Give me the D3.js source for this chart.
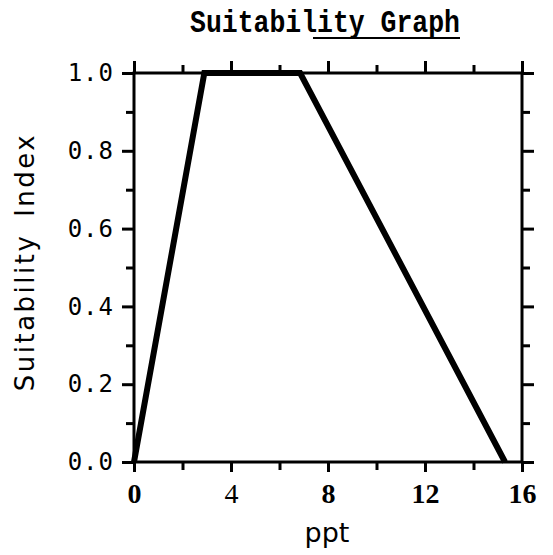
<!DOCTYPE html>
<html>
<head>
<meta charset="utf-8">
<script src="https://cdn.jsdelivr.net/npm/d3@7"></script>
<style>
  body { margin: 0; background: #fff; }
</style>
</head>
<body>
<svg></svg>
<script>
const margin = { top: 73, right: 31, bottom: 93, left: 134 };
const width = 553 - margin.left - margin.right;
const height = 555 - margin.top - margin.bottom;

// curve
const ppt = [0, 2.9, 6.85, 15.3];
const suitability = [0, 1, 1, 0];

const xMajor = [0, 4, 8, 12, 16];
const xMinor = [2, 6, 10, 14];
const yMajor = [0, 0.2, 0.4, 0.6, 0.8, 1.0];
const yMinor = [0.1, 0.3, 0.5, 0.7, 0.9];

const x = d3.scaleLinear().domain([0, 16]).range([0, width]);
const y = d3.scaleLinear().domain([0, 1]).range([height, 0]);

const svg = d3.select('svg')
	.attr('width', 553)
	.attr('height', 555)
	.append('g')
	.attr('transform', `translate(${margin.left},${margin.top})`);

function styleAxis(g) {
	g.select('.domain').remove();
	g.selectAll('.tick line').attr('stroke', '#000').attr('stroke-width', 3);
}

// bottom
svg.append('g')
	.attr('transform', `translate(0,${height})`)
	.call(d3.axisBottom(x).tickValues(xMajor).tickSize(10).tickPadding(11).tickFormat(d3.format('d')))
	.call(styleAxis)
	.call(g => g.selectAll('text')
		.attr('fill', '#000')
		.attr('font-family', 'Liberation Serif')
		.attr('font-weight', d => d === 4 ? 'normal' : 'bold')
		.attr('font-size', 28));
svg.append('g')
	.attr('transform', `translate(0,${height})`)
	.call(d3.axisBottom(x).tickValues(xMinor).tickSize(8).tickFormat(''))
	.call(styleAxis);

// top
svg.append('g')
	.call(d3.axisTop(x).tickValues(xMajor).tickSize(12).tickFormat(''))
	.call(styleAxis);
svg.append('g')
	.call(d3.axisTop(x).tickValues(xMinor).tickSize(8).tickFormat(''))
	.call(styleAxis);

// left
svg.append('g')
	.call(d3.axisLeft(y).tickValues(yMajor).tickSize(12).tickPadding(8).tickFormat(d3.format('.1f')))
	.call(styleAxis)
	.call(g => g.selectAll('text')
		.attr('fill', '#000')
		.attr('font-family', 'DejaVu Sans Mono')
		.attr('font-size', 24)
		.attr('letter-spacing', 1));
svg.append('g')
	.call(d3.axisLeft(y).tickValues(yMinor).tickSize(8).tickFormat(''))
	.call(styleAxis);

// right
svg.append('g')
	.attr('transform', `translate(${width},0)`)
	.call(d3.axisRight(y).tickValues(yMajor).tickSize(12).tickFormat(''))
	.call(styleAxis);
svg.append('g')
	.attr('transform', `translate(${width},0)`)
	.call(d3.axisRight(y).tickValues(yMinor).tickSize(8).tickFormat(''))
	.call(styleAxis);

// frame
svg.append('rect')
	.attr('width', width)
	.attr('height', height)
	.attr('fill', 'none')
	.attr('stroke', '#000')
	.attr('stroke-width', 3);

// curve
const points = ppt.map((d, i) => [d, suitability[i]]);
svg.append('path')
	.datum(points)
	.attr('fill', 'none')
	.attr('stroke', '#000')
	.attr('stroke-width', 6)
	.attr('stroke-linejoin', 'miter')
	.attr('d', d3.line().x(d => x(d[0])).y(d => y(d[1])));

// title
svg.append('text')
	.attr('x', 190 - margin.left)
	.attr('y', 32 - margin.top)
	.attr('font-family', 'Liberation Mono')
	.attr('font-weight', 'bold')
	.attr('font-size', 32)
	.attr('textLength', 270)
	.attr('lengthAdjust', 'spacingAndGlyphs')
	.attr('fill', '#000')
	.text('Suitability Graph');
svg.append('line')
	.attr('x1', 313 - margin.left)
	.attr('x2', 460 - margin.left)
	.attr('y1', 38 - margin.top)
	.attr('y2', 38 - margin.top)
	.attr('stroke', '#000')
	.attr('stroke-width', 2);

// axis labels
svg.append('text')
	.attr('x', 327 - margin.left)
	.attr('y', 542 - margin.top)
	.attr('text-anchor', 'middle')
	.attr('font-family', 'DejaVu Sans')
	.attr('font-size', 27)
	.text('ppt');

svg.append('text')
	.attr('transform', `translate(${34 - margin.left},${262 - margin.top}) rotate(-90)`)
	.attr('text-anchor', 'middle')
	.attr('font-family', 'DejaVu Sans')
	.attr('font-size', 26)
	.attr('letter-spacing', 2.5)
	.attr('word-spacing', 6)
	.text('Suitability Index');
</script>
</body>
</html>
